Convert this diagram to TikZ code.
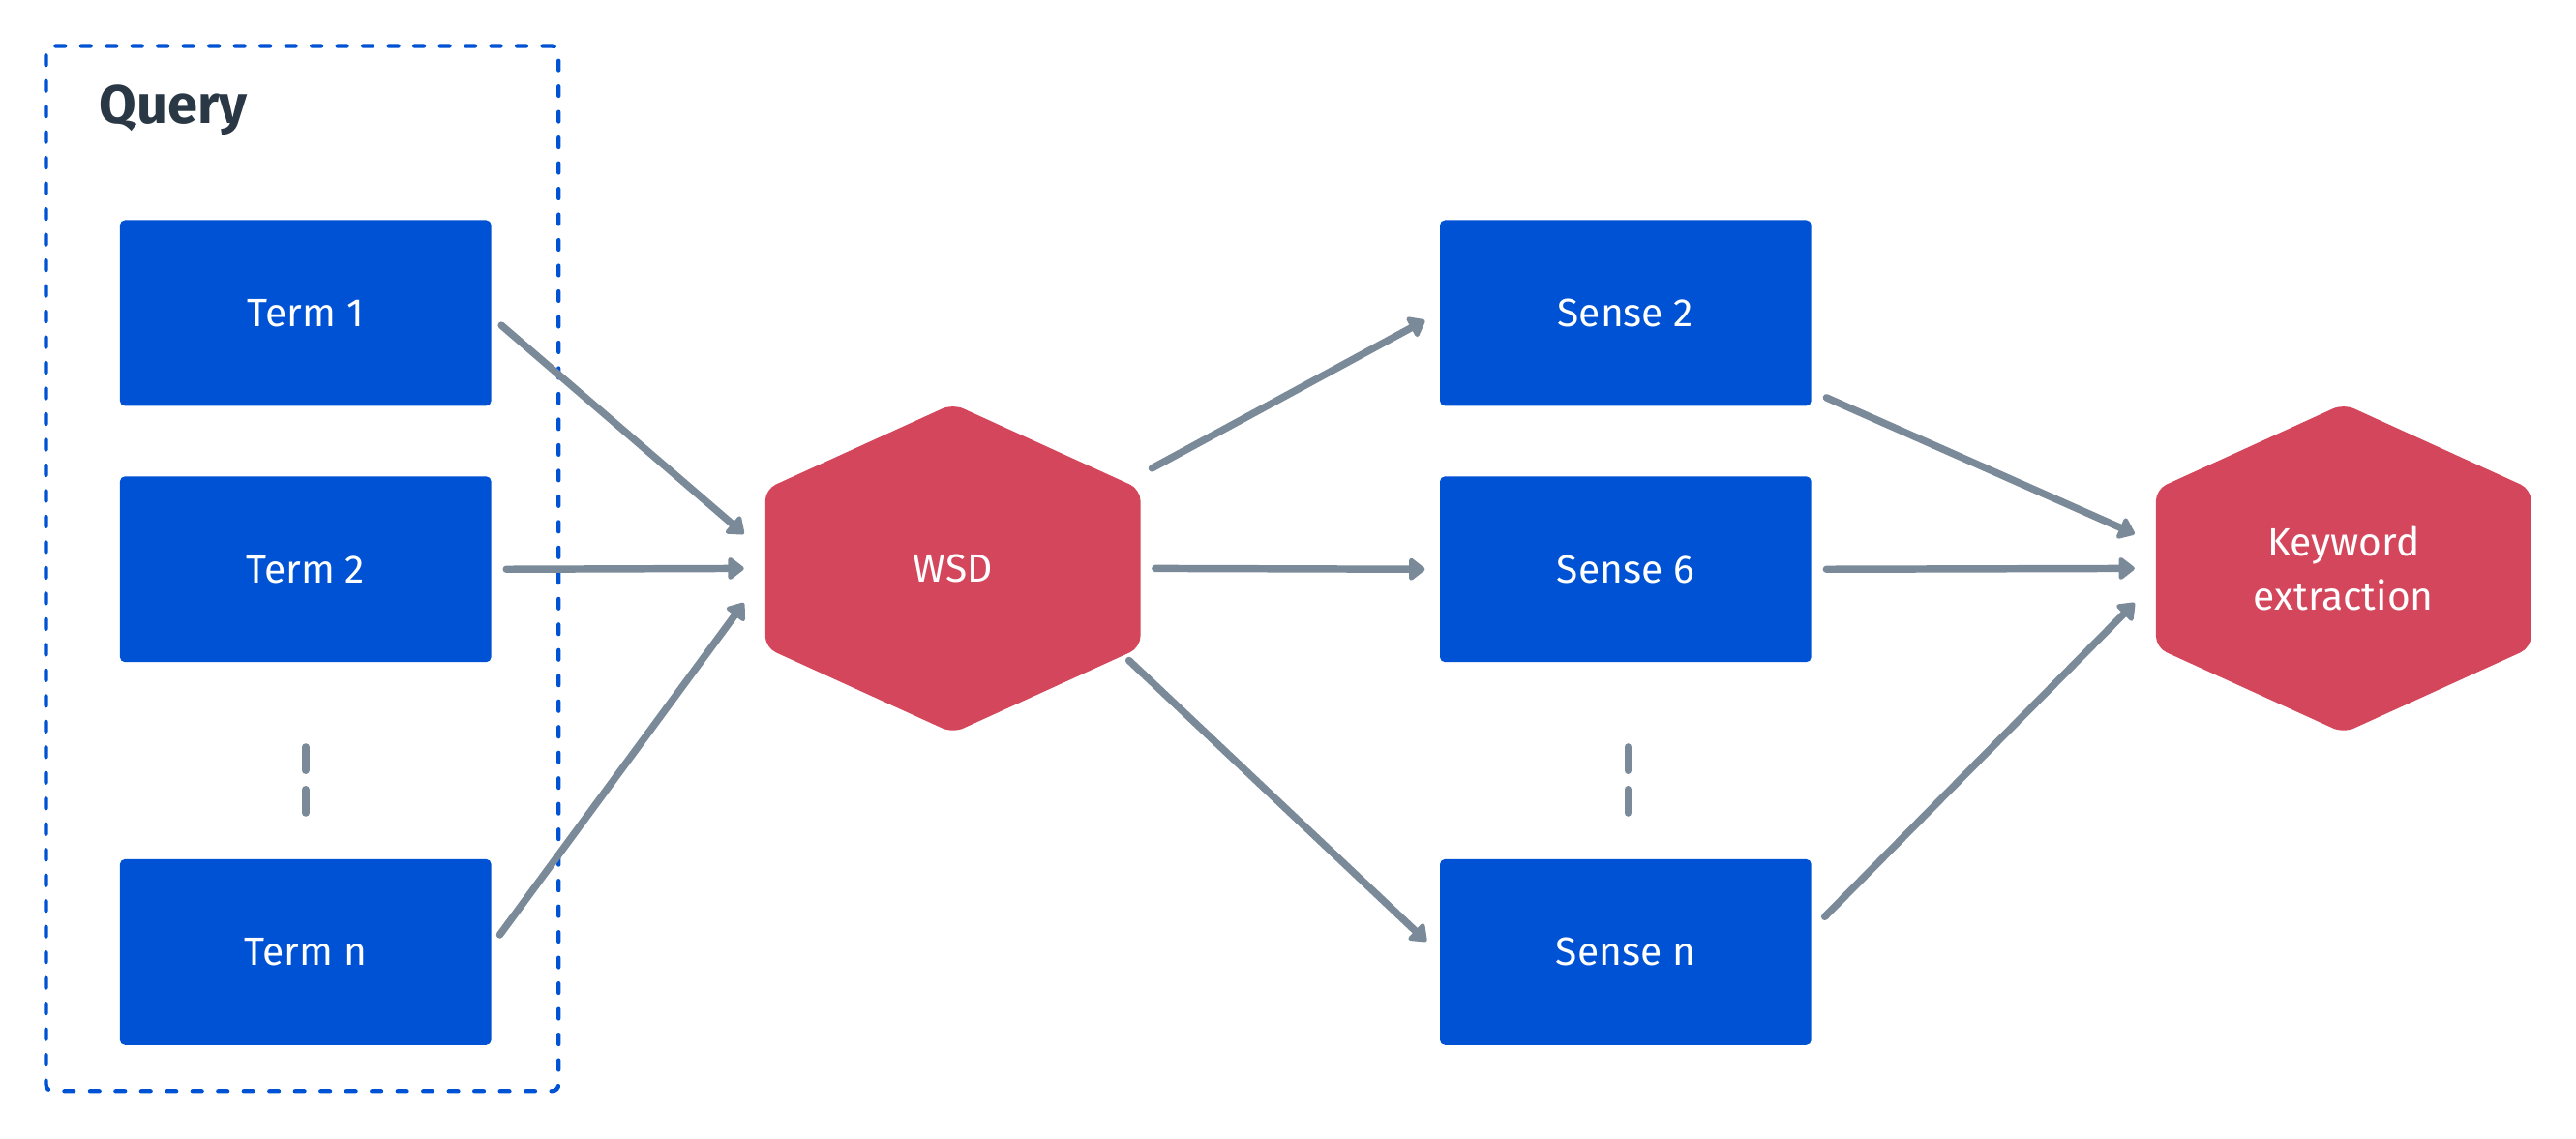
\documentclass[tikz,border=0pt]{standalone}
\usepackage{fontspec}
\setmainfont{Fira Sans}
\usetikzlibrary{arrows.meta,calc,backgrounds}
\definecolor{boxblue}{HTML}{0052D4}
\definecolor{hexred}{HTML}{D4465B}
\definecolor{arrowgray}{HTML}{7B8A99}
\definecolor{titledark}{HTML}{2A3744}
\newcommand\hexfill[1]{%
  \fill[hexred, rounded corners=7pt]
    (#1.north) -- ($(#1.north east)+(0,52)$) -- ($(#1.south east)+(0,-52)$)
    -- (#1.south) -- ($(#1.south west)+(0,-52)$) -- ($(#1.north west)+(0,52)$) -- cycle;}
\begin{document}
\begin{tikzpicture}[x=1pt,y=-1pt,
  termbox/.style={fill=boxblue, text=white, rounded corners=3pt, minimum width=226pt,
    minimum height=113pt, inner sep=0pt, font=\fontsize{24}{28}\selectfont},
  hexnode/.style={minimum width=228pt, minimum height=200pt, inner sep=0pt, text=white,
    align=center, font=\fontsize{24}{33}\selectfont},
  conn/.style={draw=arrowgray, line width=4.4pt, line cap=round,
    -{Triangle[length=10.5pt,width=15.5pt,round]}},
  dotline/.style={draw=arrowgray, line width=4.4pt, line cap=round},
  querybox/.style={draw=boxblue, line width=2.5pt, dash pattern=on 5.8pt off 9.8pt,
    line cap=round, rounded corners=4pt, minimum width=312pt, minimum height=636pt, inner sep=0pt}]
\useasboundingbox (0,0) rectangle (1568,693);

\node[querybox] (query) at (184,346) {};
\node[anchor=base west, text=titledark, font=\fontsize{33}{38}\selectfont\bfseries] (qlabel) at (57,75) {Query};

\node[termbox] (t1) at (186,190.5) {Term 1};
\node[termbox] (t2) at (186,346.5) {Term 2};
\node[termbox] (tn) at (186,579.5) {Term n};

\node[termbox] (s2) at (989.5,190.5) {Sense 2};
\node[termbox] (s6) at (989.5,346.5) {Sense 6};
\node[termbox] (sn) at (989.5,579.5) {Sense n};

\node[hexnode] (wsd) at (580,346) {WSD};
\node[hexnode] (ke) at (1426.5,346) {Keyword\\extraction};
\begin{scope}[on background layer]
  \hexfill{wsd}
  \hexfill{ke}
\end{scope}

% vertical ellipsis marks
\draw[dotline] ($(t2.south)+(0,51.5)$) -- ($(t2.south)+(0,65.8)$);
\draw[dotline] ($(t2.south)+(0,77.3)$) -- ($(t2.south)+(0,91.6)$);
\draw[dotline] ($(s6.south)+(1.5,51.5)$) -- ($(s6.south)+(1.5,65.8)$);
\draw[dotline] ($(s6.south)+(1.5,77.3)$) -- ($(s6.south)+(1.5,91.6)$);

% connectors
\draw[conn] ([shift={(6,7.5)}]t1.east) -- ([shift={(-13,-21)}]wsd.west);
\draw[conn] ([shift={(9,0)}]t2.east) -- ([shift={(-13,0)}]wsd.west);
\draw[conn] ([shift={(5,-10.5)}]tn.east) -- ([shift={(-13,21)}]wsd.west);

\draw[conn] ([shift={(7,-61)}]wsd.east) -- ([shift={(-9,4.5)}]s2.west);
\draw[conn] ([shift={(9,0)}]wsd.east) -- ([shift={(-9,0)}]s6.west);
\draw[conn] ([shift={(-7,56)}]wsd.east) -- ([shift={(-8,-6.5)}]sn.west);

\draw[conn] ([shift={(9,51.5)}]s2.east) -- ([shift={(-13,-21)}]ke.west);
\draw[conn] ([shift={(9,0)}]s6.east) -- ([shift={(-13,0)}]ke.west);
\draw[conn] ([shift={(8,-21.5)}]sn.east) -- ([shift={(-13,21)}]ke.west);
\end{tikzpicture}
\end{document}
